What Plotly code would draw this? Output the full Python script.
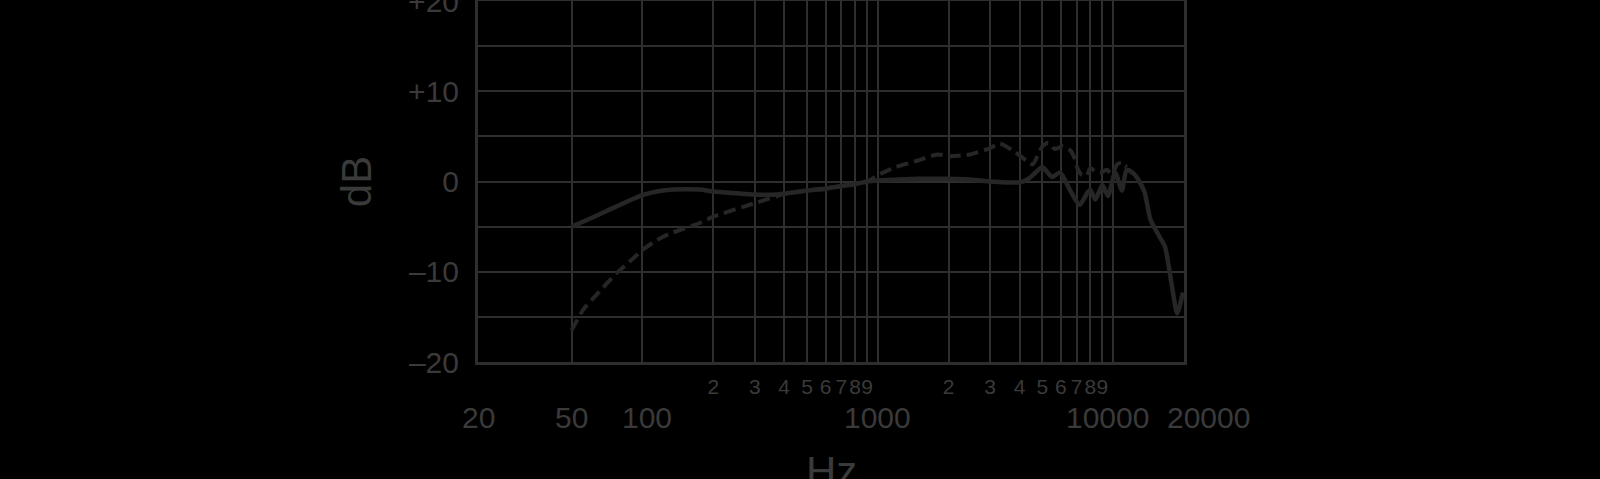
import numpy as np
import plotly.graph_objects as go

# 1. Values (frequency in Hz, level in dB)
solid_freq = [50, 60, 70, 80, 90, 100, 115, 135, 175, 200, 250, 300, 370, 400, 500, 600, 700,
              800, 900, 1000, 1200, 1500, 2000, 2500, 3000, 3500, 4000, 4300, 4600, 5000,
              5500, 5950, 6600, 7200, 7750, 8000, 8400, 9000, 9500, 10200, 10900, 11400,
              12200, 12800, 13600, 14400, 15800, 16600, 17800, 18700, 19800]
solid_db = [-5.0, -4.1, -3.3, -2.6, -2.0, -1.5, -1.1, -0.9, -0.9, -1.1, -1.3, -1.45, -1.45, -1.35,
            -1.0, -0.8, -0.5, -0.3, 0.0, 0.1, 0.2, 0.3, 0.3, 0.2, 0.0, -0.1, -0.1, 0.2, 0.8, 1.6,
            0.5, 1.0, -1.1, -2.6, -1.3, -0.9, -2.0, -0.4, -1.6, 1.0, -1.0, 1.3,
            0.9, 0.2, -1.2, -4.2, -6.2, -7.2, -11.7, -14.6, -12.3]

dashed_freq = [50, 56, 64, 78, 88, 100, 115, 130, 175, 200, 300, 400, 500, 700, 900, 1000, 1100,
               1160, 1470, 1790, 2030, 2470, 3000, 3300, 3760, 4300, 4550, 5000, 5300, 5650,
               6100, 6600, 6900, 7000, 7300, 7700, 8000, 8400, 8900, 9400, 9900, 10400,
               10900, 11400]
dashed_db = [-16.5, -14.2, -12.5, -10.1, -8.9, -7.6, -6.5, -5.8, -4.6, -3.9, -2.4, -1.4, -1.0, -0.5,
             0.0, 0.7, 1.2, 1.5, 2.3, 3.0, 2.8, 3.0, 3.7, 4.2, 3.4, 2.3, 1.9, 3.9, 4.3, 3.6,
             3.9, 3.4, 2.4, 1.7, 0.8, 0.6, 1.5, 1.1, 1.0, 1.3, 0.8, 1.9,
             2.1, 1.6]

# grid lines along frequency, with the small 2..9 digits under each decade
grid_vals = [50, 100, 200, 300, 400, 500, 600, 700, 800, 900,
             1000, 2000, 3000, 4000, 5000, 6000, 7000, 8000, 9000, 10000]
grid_text = ["", "", "2", "3", "4", "5", "6", "7", "8", "9",
             "", "2", "3", "4", "5", "6", "7", "8", "9", ""]
# the big frequency labels on the second row (nudge in px, as placed on the chart)
major_vals = [20, 50, 100, 1000, 10000, 20000]
major_text = ["20", "50", "100", "1000", "10000", "20000"]
major_nudge = [0, 0, 5, 0, -6, 24]

db_vals = [-20, -15, -10, -5, 0, 5, 10, 15, 20]
db_text = ["\u201320", "", "\u201310", "", "0", "", "+10", "", "+20"]

TEXT = "#3a3a3a"
GRID = "#2e2e2e"
CURVE = "#262626"
FONT = "Liberation Sans, Arial, sans-serif"

x_range = [np.log10(20), np.log10(20000)]

# 2. Build the figure
fig = go.Figure()

fig.add_trace(go.Scatter(
    x=solid_freq, y=solid_db,
    mode="lines",
    line=dict(color=CURVE, width=4.5, shape="spline", smoothing=0.6),
    hoverinfo="skip"
))

fig.add_trace(go.Scatter(
    x=dashed_freq, y=dashed_db,
    mode="lines",
    line=dict(color=CURVE, width=4, dash="12px,6px", shape="spline", smoothing=0.6),
    hoverinfo="skip"
))

# second row of frequency labels (log axis -> annotation x is log10)
for val, txt, nudge in zip(major_vals, major_text, major_nudge):
    fig.add_annotation(
        x=np.log10(val), xref="x",
        y=0, yref="paper", yanchor="middle", yshift=-55,
        xshift=nudge,
        text=txt, showarrow=False,
        font=dict(size=30, color=TEXT, family=FONT),
    )

# "Hz" sits low and runs off the bottom edge, so it's placed by hand
fig.add_annotation(
    x=0.5, xref="paper",
    y=0, yref="paper", yanchor="top", yshift=-84,
    text="Hz", showarrow=False,
    font=dict(size=42, color=TEXT, family=FONT),
)

# 3. Layout
fig.update_layout(
    width=1600,
    height=479,
    margin=dict(l=478, r=416, t=1, b=117),
    paper_bgcolor="black",
    plot_bgcolor="black",
    showlegend=False,
    font=dict(family=FONT, color=TEXT),
    xaxis=dict(
        type="log", range=x_range,
        tickvals=grid_vals, ticktext=grid_text,
        tickfont=dict(size=21, family="Liberation Sans Narrow, Liberation Sans, sans-serif"),
        tickangle=0,
        ticks="", ticklabelstandoff=4,
        showgrid=True, gridcolor=GRID, gridwidth=2,
        showline=True, linecolor=GRID, linewidth=3, mirror=True,
        zeroline=False, automargin=False,
    ),
    yaxis=dict(
        range=[-20, 20],
        tickvals=db_vals, ticktext=db_text,
        tickfont=dict(size=30),
        ticks="", ticklabelstandoff=10, ticklabeloverflow="allow",
        showgrid=True, gridcolor=GRID, gridwidth=2,
        showline=True, linecolor=GRID, linewidth=3, mirror=True,
        zeroline=False, automargin=False,
        title=dict(text="dB", font=dict(size=42), standoff=24),
    ),
)

fig.write_html(
    "out.html",
    config={"displayModeBar": False},
    post_script="document.body.style.margin='0';document.body.style.background='black';",
)
